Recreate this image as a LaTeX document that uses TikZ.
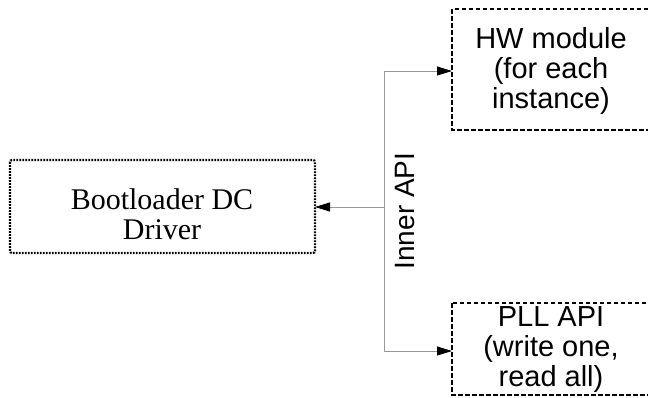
\documentclass[tikz,border=0pt]{standalone}
\usepackage{fontspec}
\setmainfont{Liberation Serif}
\setsansfont{Liberation Sans}
\usetikzlibrary{arrows.meta}
\begin{document}
\begin{tikzpicture}[x=1pt,y=-1pt,
  dotbox/.style={draw=black,line width=2.2pt,dash pattern=on 1.8pt off 1.2pt,rounded corners=2pt},
  dashbox/.style={draw=black,line width=2.1pt,dash pattern=on 4.5pt off 2.5pt},
  boxtext/.style={align=center,inner sep=0pt},
  link/.style={draw=black!40,line width=0.9pt},
  tip/.style={-{Triangle[black,length=15pt,width=9pt]}}]
\useasboundingbox (0,0) rectangle (648,397);
\clip (0,0) rectangle (648,397);

% box outlines
\draw[dotbox] (10,160) rectangle (315,253);
\draw[dashbox] (452,9) rectangle (660,130);
\draw[dashbox] (452,303) rectangle (660,395);

% named anchors on the box edges
\coordinate (drv) at (315,207);
\coordinate (hw) at (452,71);
\coordinate (pll) at (452,351);

% box labels
\node[boxtext,font=\fontsize{30}{30.5}\selectfont] (drvtxt) at (162,214) {Bootloader DC\\Driver};
\node[boxtext,font=\sffamily\fontsize{29}{30}\selectfont] (hwtxt) at (551,71) {HW module\\(for each\\instance)};
\node[boxtext,font=\sffamily\fontsize{29}{30}\selectfont] (plltxt) at (551,350) {PLL API\\(write one,\\read all)};

% inner API bus
\coordinate (bustop) at (384,71);
\coordinate (busmid) at (384,207);
\coordinate (busbot) at (384,351);
\draw[link] (bustop) -- (busbot);
\draw[link,tip] (bustop) -- (hw);
\draw[link,tip] (busbot) -- (pll);
\draw[link,tip] (busmid) -- (drv);
\node[rotate=90,inner sep=0pt,font=\sffamily\fontsize{28}{30}\selectfont] (api) at (405,211) {Inner API};
\end{tikzpicture}
\end{document}
